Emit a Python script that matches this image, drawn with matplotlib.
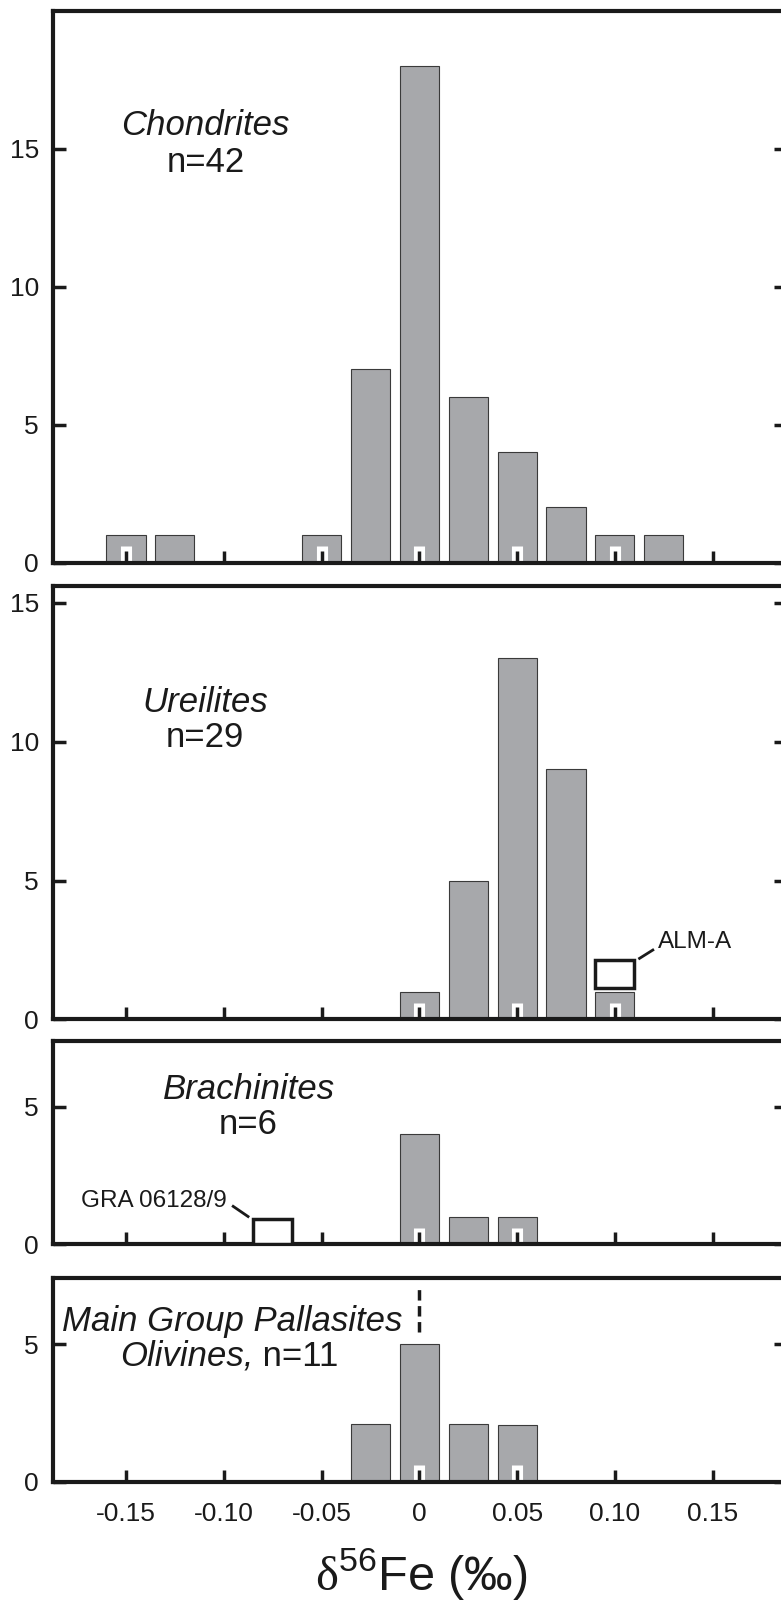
import matplotlib
matplotlib.use('Agg')
import matplotlib.pyplot as plt

plt.rcParams['font.family'] = ['Liberation Sans', 'DejaVu Sans']
plt.rcParams['mathtext.fontset'] = 'custom'
plt.rcParams['mathtext.rm'] = 'Liberation Serif'
plt.rcParams['mathtext.sf'] = 'Liberation Sans'
plt.rcParams['mathtext.it'] = 'Liberation Sans:italic'

# bin centres (per mil) and counts for each group
chon_x = [-0.15, -0.125, -0.05, -0.025, 0, 0.025, 0.05, 0.075, 0.10, 0.125]
chon_n = [1, 1, 1, 7, 18, 6, 4, 2, 1, 1]
ure_x = [0, 0.025, 0.05, 0.075, 0.10]
ure_n = [1, 5, 13, 9, 1]
bra_x = [0, 0.025, 0.05]
bra_n = [4, 1, 1]
pal_x = [-0.025, 0, 0.025, 0.05]
pal_n = [2.1, 5, 2.1, 2.05]

# open boxes for the anomalous samples
alm_x, alm_bottom, alm_h = 0.10, 1.13, 1.0
gra_x, gra_h = -0.075, 0.92

xticks = [-0.15, -0.10, -0.05, 0, 0.05, 0.10, 0.15]
xticklabels = ['-0.15', '-0.10', '-0.05', '0', '0.05', '0.10', '0.15']

W, H = 781, 1602
fig = plt.figure(figsize=(W / 100, H / 100), dpi=100)

left = 52.7 / W
width = (786 - 52.7) / W
# (top px, bottom px) of each panel
panels_px = [(10.7, 562.5), (586, 1019.5), (1040.7, 1244), (1278.3, 1481.5)]
ylims = [20, 15.6, 7.4, 7.4]
yticks = [[0, 5, 10, 15], [0, 5, 10, 15], [0, 5], [0, 5]]
data = [(chon_x, chon_n), (ure_x, ure_n), (bra_x, bra_n), (pal_x, pal_n)]

bar_face = '#a7a8ab'
bar_edge = '#3a3a3a'
ink = '#1a1a1a'

axes = []
for i, ((top, bot), ymax, yt, (bx, bn)) in enumerate(zip(panels_px, ylims, yticks, data)):
    ax = fig.add_axes([left, 1 - bot / H, width, (bot - top) / H])
    ax.bar(bx, bn, width=0.02, color=bar_face, edgecolor=bar_edge, linewidth=0.8, zorder=1)
    ax.set_xlim(-0.1875, 0.1875)
    ax.set_ylim(0, ymax)
    ax.set_yticks(yt)
    ax.set_xticks(xticks)
    ax.tick_params(axis='both', direction='in', length=9, width=2.5, labelsize=19,
                   color=ink, labelcolor=ink)
    ax.tick_params(axis='y', right=True, pad=10)
    ax.tick_params(axis='x', pad=15)
    for s in ax.spines.values():
        s.set_linewidth(3)
        s.set_color(ink)
    # white halo around the bottom ticks where they cross the bars
    halo = 16.5 / (bot - top)
    ax.vlines(xticks, 0, halo, transform=ax.get_xaxis_transform(), colors='white',
              linewidth=8, zorder=1.2, capstyle='butt')
    if i < 3:
        ax.set_xticklabels([])
    else:
        ax.set_xticklabels(xticklabels)
    axes.append(ax)

ax1, ax2, ax3, ax4 = axes
lab = 25
note = 17.5

ax1.text(-0.1094, 15.5, 'Chondrites', style='italic', fontsize=lab, ha='center', va='baseline', color=ink)
ax1.text(-0.1094, 14.17, 'n=42', fontsize=lab, ha='center', va='baseline', color=ink)

ax2.text(-0.1097, 11.07, 'Ureilites', style='italic', fontsize=lab, ha='center', va='baseline', color=ink)
ax2.text(-0.1097, 9.81, 'n=29', fontsize=lab, ha='center', va='baseline', color=ink)
ax2.bar([alm_x], [alm_h], bottom=alm_bottom, width=0.02, color='white', edgecolor=ink,
        linewidth=2.5, zorder=3)
ax2.plot([0.1126, 0.1194], [2.2, 2.5], color=ink, linewidth=2)
ax2.text(0.1218, 2.56, 'ALM-A', fontsize=note, ha='left', va='baseline', color=ink)

ax3.text(-0.0873, 5.27, 'Brachinites', style='italic', fontsize=lab, ha='center', va='baseline', color=ink)
ax3.text(-0.0873, 3.99, 'n=6', fontsize=lab, ha='center', va='baseline', color=ink)
ax3.bar([gra_x], [gra_h], width=0.02, color='white', edgecolor=ink, linewidth=2.5, zorder=3)
ax3.plot([-0.0952, -0.0876], [1.37, 1.0], color=ink, linewidth=2)
ax3.text(-0.0985, 1.33, 'GRA 06128/9', fontsize=note, ha='right', va='baseline', color=ink)

ax4.text(-0.0957, 5.49, 'Main Group Pallasites', style='italic', fontsize=lab, ha='center', va='baseline', color=ink)
ax4.text(-0.085, 4.22, 'Olivines,', style='italic', fontsize=lab, ha='right', va='baseline', color=ink)
ax4.text(-0.085, 4.22, ' n=11', fontsize=lab, ha='left', va='baseline', color=ink)
ax4.plot([0, 0], [5.43, 7.12], color=ink, linewidth=2.5, linestyle=(0, (3, 1.6)))

fig.text(421 / W, 1 - 1590 / H, r'$\mathrm{\delta}^{\mathsf{56}}$Fe (‰)', fontsize=35,
         ha='center', va='baseline', color=ink)

fig.savefig('out.png', dpi=100)
